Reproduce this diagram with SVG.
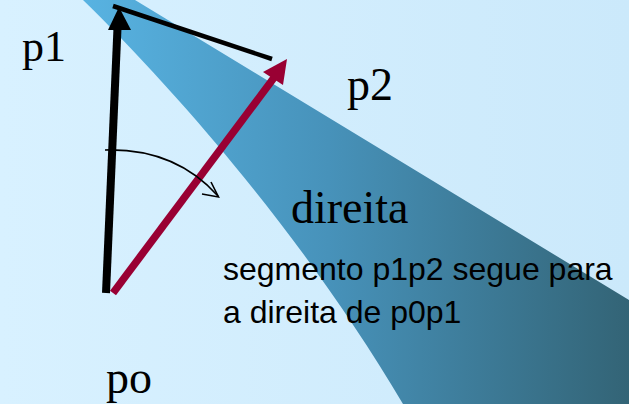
<svg xmlns="http://www.w3.org/2000/svg" width="629" height="404" viewBox="0 0 629 404">
<defs>
<linearGradient id="bg" x1="0" y1="0" x2="629" y2="0" gradientUnits="userSpaceOnUse">
<stop offset="0" stop-color="#d8f1ff"/>
<stop offset="1" stop-color="#cbe9fb"/>
</linearGradient>
<linearGradient id="band" x1="83" y1="0" x2="629" y2="0" gradientUnits="userSpaceOnUse">
<stop offset="0" stop-color="#58b3e2"/>
<stop offset="0.45" stop-color="#4792ba"/>
<stop offset="1" stop-color="#336476"/>
</linearGradient>
<style>
.serif{font-family:"Liberation Serif","Times New Roman",serif;font-size:46px;fill:#000}
.sans{font-family:"Liberation Sans",Arial,sans-serif;font-size:32px;fill:#000}
</style>
</defs>
<rect width="629" height="404" fill="url(#bg)"/>
<path id="region" d="M83,0 C170,85 300,230 403,404 L629,404 L629,300 L135,0 Z" fill="url(#band)"/>
<g id="connectors">
<g id="p0p1">
<line x1="106" y1="293" x2="117.5" y2="28" stroke="#000" stroke-width="8"/>
<polygon points="119,7 108,30 131,30" fill="#000"/>
</g>
<line id="p1p2" x1="113" y1="6" x2="272" y2="59" stroke="#000" stroke-width="4.5"/>
<g id="p0p2">
<line x1="113" y1="293" x2="276" y2="75" stroke="#990033" stroke-width="7.5"/>
<polygon points="287,59 263,72 283,85" fill="#990033"/>
</g>
<g id="turn">
<path d="M105,150 Q175,148 218,196" fill="none" stroke="#000" stroke-width="1.6"/>
<polyline points="202,194 218.5,197 211,182" fill="none" stroke="#000" stroke-width="1.6"/>
</g>
</g>
<g id="labels">
<text id="lbl-p1" class="serif" x="22" y="61" style="font-size:44px">p1</text>
<text id="lbl-p2" class="serif" x="347" y="100">p2</text>
<text id="lbl-po" class="serif" x="106" y="393">po</text>
<text id="lbl-direita" class="serif" x="291" y="223">direita</text>
<text id="note" class="sans"><tspan x="223" y="280">segmento p1p2 segue para</tspan><tspan x="223" y="323">a direita de p0p1</tspan></text>
</g>
</svg>
